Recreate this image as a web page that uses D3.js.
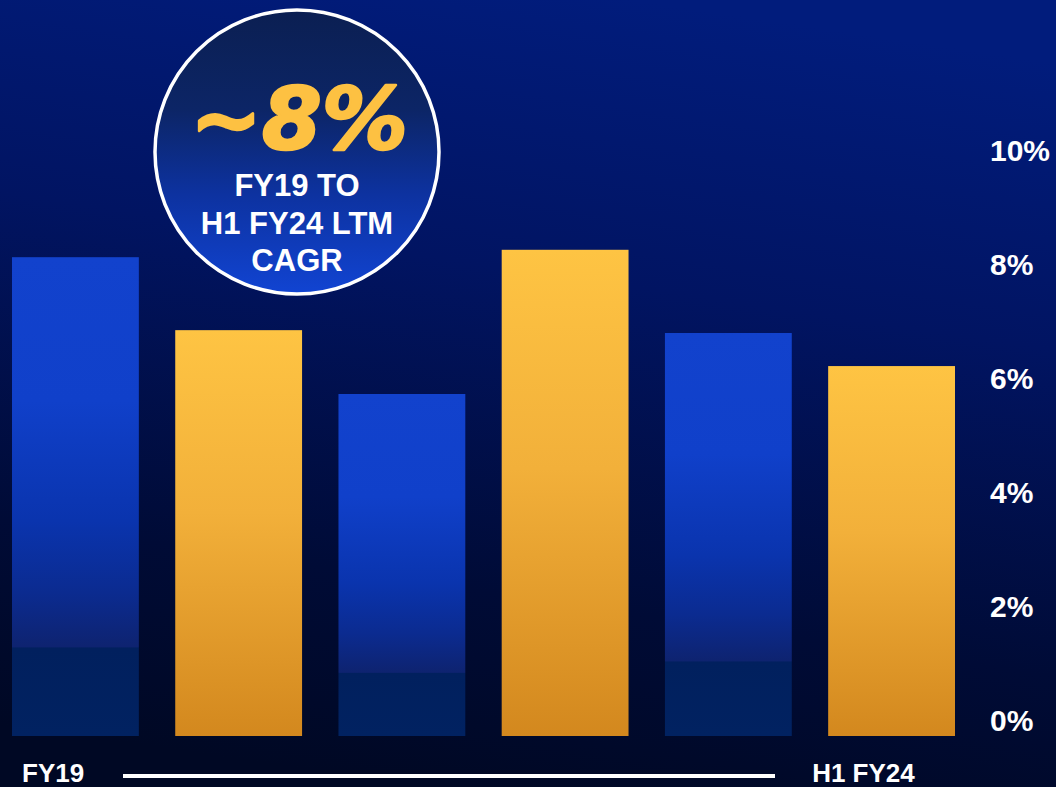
<!DOCTYPE html>
<html>
<head>
<meta charset="utf-8">
<script src="https://cdn.jsdelivr.net/npm/d3@7"></script>
<style>
  html, body { margin: 0; padding: 0; background: #000a2a; }
  svg { display: block; }
</style>
</head>
<body>
<svg id="chart" width="1056" height="787"></svg>
<script>
// Annual growth by period, FY19 through H1 FY24 LTM
const periods = ["FY19", "FY20", "FY21", "FY22", "FY23", "H1 FY24"];
const growth = [8.4, 7.12, 6.0, 8.53, 7.07, 6.49];
const tickValues = [0, 2, 4, 6, 8, 10];
const startLabel = "FY19";
const endLabel = "H1 FY24";
const cagrValue = "~8%";
const cagrCaption = ["FY19 TO", "H1 FY24 LTM", "CAGR"];

const W = 1056, H = 787;
const svg = d3.select("#chart");
const defs = svg.append("defs");

// Backdrop: deep navy fading toward near-black at the bottom
const bg = defs.append("linearGradient").attr("id", "bg")
  .attr("x1", "0.6").attr("y1", "0").attr("x2", "0.4").attr("y2", "1");
bg.append("stop").attr("offset", "0").attr("stop-color", "#011c7c");
bg.append("stop").attr("offset", "0.35").attr("stop-color", "#011462");
bg.append("stop").attr("offset", "0.75").attr("stop-color", "#000b36");
bg.append("stop").attr("offset", "1").attr("stop-color", "#000824");
svg.append("rect").attr("width", W).attr("height", H).attr("fill", "url(#bg)");

// Bar fills
const blue = defs.append("linearGradient").attr("id", "barBlue")
  .attr("x1", 0).attr("y1", 0).attr("x2", 0).attr("y2", 1);
[[0, "#1242cd"], [0.3, "#1040ca"], [0.55, "#0a34ae"], [0.7, "#0b2b90"],
 [0.814, "#0e2370"], [0.816, "#01205e"], [1, "#012261"]]
  .forEach(([o, c]) => blue.append("stop").attr("offset", o).attr("stop-color", c));

const gold = defs.append("linearGradient").attr("id", "barGold")
  .attr("x1", 0).attr("y1", 0).attr("x2", 0).attr("y2", 1);
[[0, "#fec443"], [0.45, "#f2b03a"], [1, "#d3881e"]]
  .forEach(([o, c]) => gold.append("stop").attr("offset", o).attr("stop-color", c));

// Scales
const x = d3.scaleBand().domain(periods).range([12, 955])
  .paddingInner(0.223).paddingOuter(0);
const y = d3.scaleLinear().domain([0, 10]).range([736, 166]);

// Bars
svg.append("g").selectAll("rect")
  .data(periods.map((p, i) => ({ p, v: growth[i], i })))
  .join("rect")
  .attr("x", d => x(d.p))
  .attr("y", d => y(d.v))
  .attr("width", x.bandwidth())
  .attr("height", d => y(0) - y(d.v))
  .attr("fill", d => d.i % 2 === 0 ? "url(#barBlue)" : "url(#barGold)");

// Right-hand value axis (labels only)
const axis = svg.append("g").attr("transform", "translate(990,0)")
  .call(d3.axisRight(y).tickValues(tickValues).tickSize(0).tickPadding(0)
    .tickFormat(d => d + "%"));
axis.select(".domain").remove();
axis.selectAll("text")
  .attr("dy", "-0.17em")
  .attr("text-anchor", "start")
  .attr("fill", "#ffffff")
  .style("font-family", "'Liberation Sans', Arial, sans-serif")
  .style("font-weight", "bold")
  .style("font-size", "30px");

// Period span along the bottom
const bottomFont = "'Liberation Sans', Arial, sans-serif";
svg.append("text")
  .attr("x", x(periods[0]) + 10).attr("y", 782)
  .attr("fill", "#fff").style("font-family", bottomFont)
  .style("font-weight", "bold").style("font-size", "26px")
  .text(startLabel);
svg.append("text")
  .attr("x", x(periods[periods.length - 1]) - 16).attr("y", 782)
  .attr("fill", "#fff").style("font-family", bottomFont)
  .style("font-weight", "bold").style("font-size", "26px")
  .text(endLabel);
svg.append("line")
  .attr("x1", 123).attr("x2", 775).attr("y1", 776).attr("y2", 776)
  .attr("stroke", "#ffffff").attr("stroke-width", 4);

// CAGR badge
const badge = defs.append("linearGradient").attr("id", "badge")
  .attr("x1", 0).attr("y1", 0).attr("x2", 0).attr("y2", 1);
[[0, "#0b1f52"], [0.35, "#0c2566"], [0.65, "#0d32a0"], [1, "#1144d2"]]
  .forEach(([o, c]) => badge.append("stop").attr("offset", o).attr("stop-color", c));

const cx = 297, cy = 152, r = 142;
const g = svg.append("g");
g.append("circle").attr("cx", cx).attr("cy", cy).attr("r", r)
  .attr("fill", "url(#badge)").attr("stroke", "#ffffff").attr("stroke-width", 3.5);
g.append("text")
  .attr("x", cx + 2).attr("y", 149)
  .attr("text-anchor", "middle")
  .attr("fill", "#fdc142")
  .attr("stroke", "#fdc142").attr("stroke-width", 2.5)
  .attr("stroke-linejoin", "round")
  .style("font-family", "'DejaVu Sans', Verdana, sans-serif")
  .style("font-weight", "bold").style("font-style", "italic")
  .style("font-size", "86px")
  .text(cagrValue);
g.selectAll("text.cap").data(cagrCaption).join("text")
  .attr("class", "cap")
  .attr("x", cx).attr("y", (d, i) => 196 + i * 37.5)
  .attr("text-anchor", "middle")
  .attr("fill", "#ffffff")
  .style("font-family", "'Liberation Sans', Arial, sans-serif")
  .style("font-weight", "bold").style("font-size", "31px")
  .text(d => d);
</script>
</body>
</html>
